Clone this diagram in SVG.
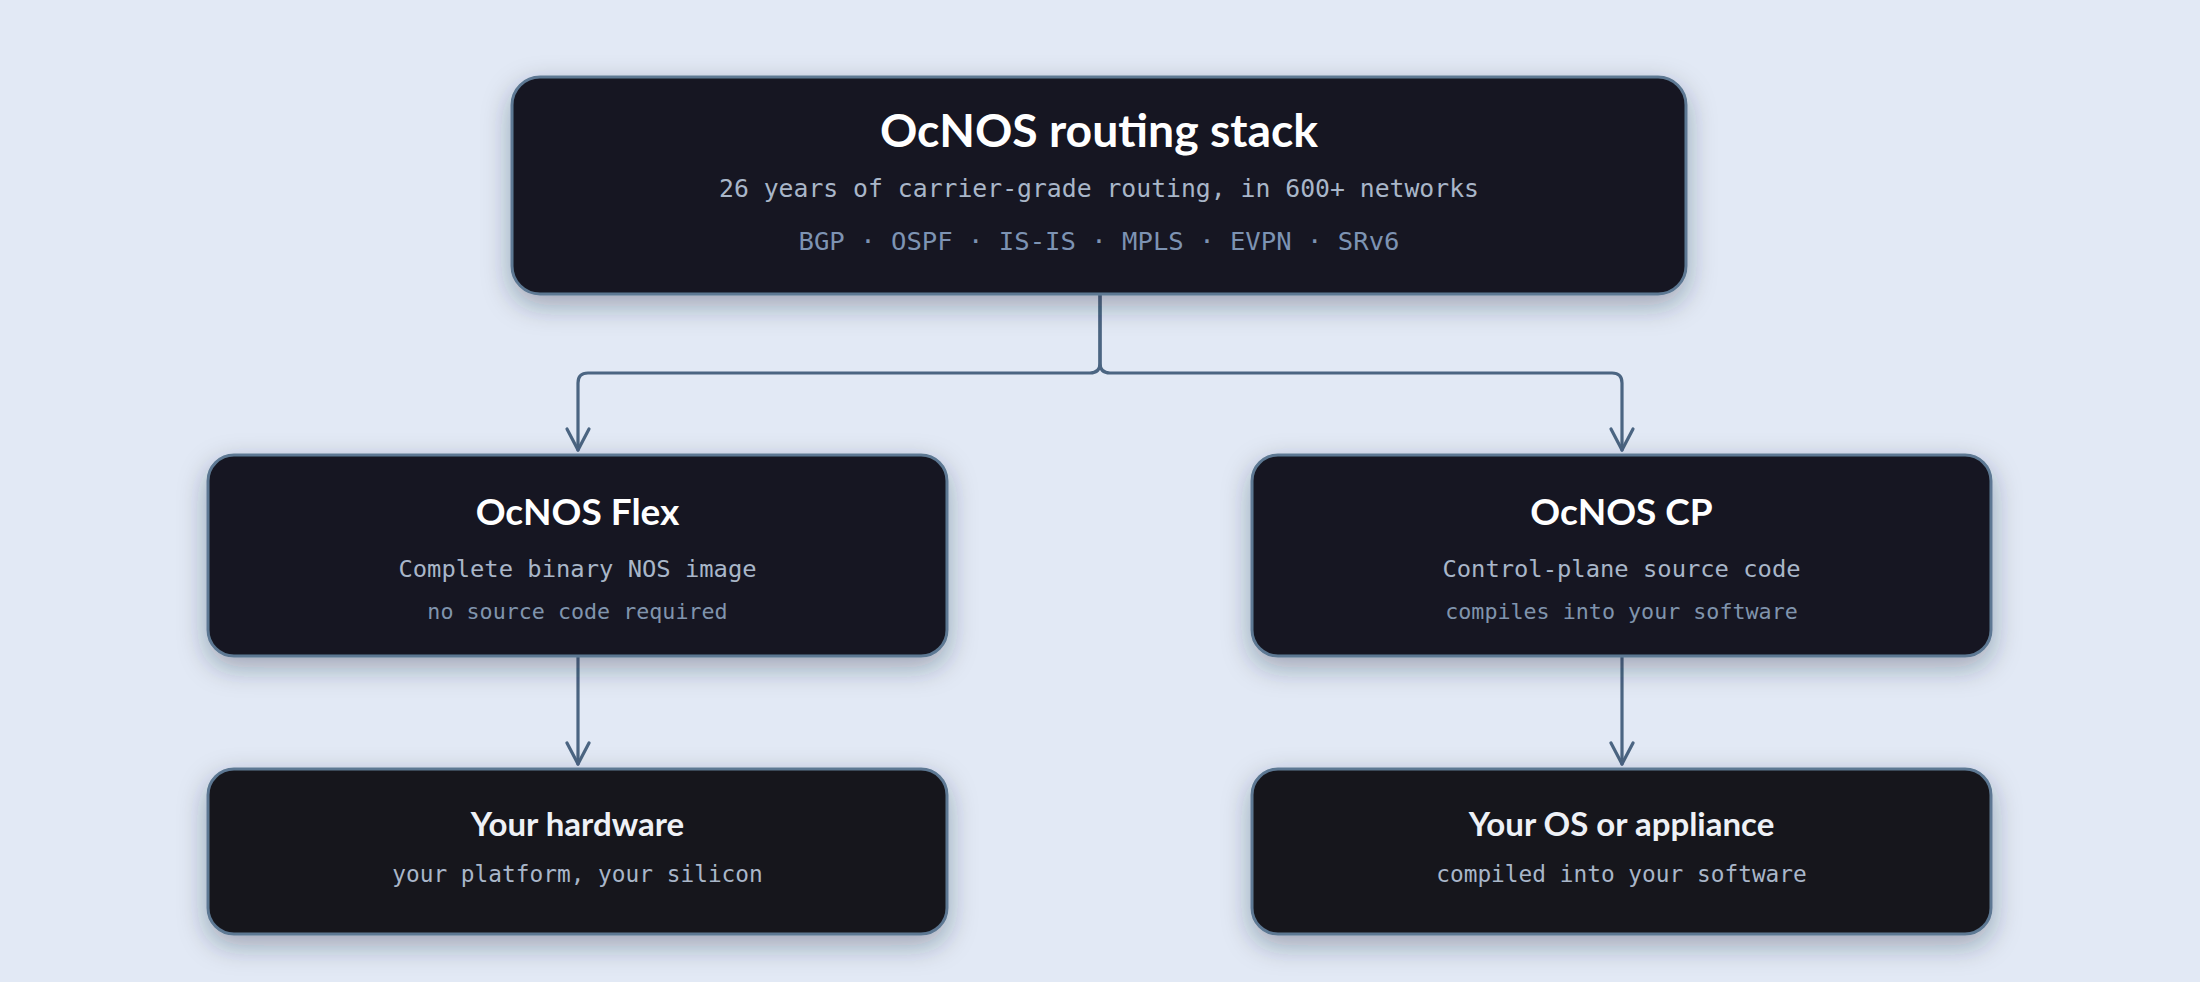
<svg xmlns="http://www.w3.org/2000/svg" width="2200" height="982" viewBox="0 0 2200 982">
<defs>
<filter id="sh" x="-10%" y="-20%" width="120%" height="150%">
<feDropShadow dx="0" dy="10" stdDeviation="14" flood-color="#1c2a3e" flood-opacity="0.35"/>
</filter>
<marker id="ah" markerUnits="userSpaceOnUse" markerWidth="40" markerHeight="40" viewBox="-30 -20 40 40" refX="0" refY="0" orient="auto">
<path d="M-21,-11 L0,0 L-21,11" fill="none" stroke="#4b6582" stroke-width="3.2" stroke-linecap="round" stroke-linejoin="round"/>
</marker>
</defs>
<style>
.box{fill:#171822;stroke:#5d7893;stroke-width:3;filter:url(#sh)}
.box2{fill:#19191f;stroke:#5d7893;stroke-width:3;filter:url(#sh)}
.t{font-family:Lato,"Noto Sans",sans-serif;font-weight:700;fill:#ffffff;text-anchor:middle}
.t2{font-family:Lato,"Noto Sans",sans-serif;font-weight:700;fill:#eef1f6;text-anchor:middle}
.m{font-family:"DejaVu Sans Mono","Liberation Mono",monospace;text-anchor:middle}
.s1{fill:#a9b6c9}
.s2{fill:#8094ad}
.s3{fill:#7d93b3}
.c{fill:none;stroke:#4b6582;stroke-width:3.2;stroke-linecap:round;stroke-linejoin:round}
</style>
<rect width="2200" height="982" fill="#e2e9f5"/>
<g id="connectors">
<path class="c" d="M1100 295 V363 Q1100 373 1090 373 H588 Q578 373 578 383 V450" marker-end="url(#ah)"/>
<path class="c" d="M1100 295 V363 Q1100 373 1110 373 H1612 Q1622 373 1622 383 V450" marker-end="url(#ah)"/>
<path class="c" d="M578 657 V764" marker-end="url(#ah)"/>
<path class="c" d="M1622 657 V764" marker-end="url(#ah)"/>
</g>
<g id="stack">
<rect class="box" x="512" y="77" width="1174" height="217" rx="28"/>
<text class="t" x="1099" y="147" font-size="46.3">OcNOS routing stack</text>
<text class="m s1" x="1099" y="197" font-size="24.75">26 years of carrier-grade routing, in 600+ networks</text>
<text class="m s3" x="1099" y="250" font-size="25.6">BGP · OSPF · IS-IS · MPLS · EVPN · SRv6</text>
</g>
<g id="flex">
<rect class="box" x="208" y="455" width="739" height="201" rx="26"/>
<text class="t" x="577.5" y="525" font-size="37">OcNOS Flex</text>
<text class="m s1" x="577.5" y="577" font-size="23.8">Complete binary NOS image</text>
<text class="m s2" x="577.5" y="619" font-size="21.7">no source code required</text>
</g>
<g id="cp">
<rect class="box" x="1252" y="455" width="739" height="201" rx="26"/>
<text class="t" x="1621.5" y="525" font-size="37">OcNOS CP</text>
<text class="m s1" x="1621.5" y="577" font-size="23.8">Control-plane source code</text>
<text class="m s2" x="1621.5" y="619" font-size="21.7">compiles into your software</text>
</g>
<g id="hardware">
<rect class="box2" x="208" y="769" width="739" height="165" rx="26"/>
<text class="t2" x="577.5" y="836" font-size="33">Your hardware</text>
<text class="m s1" x="577.5" y="882" font-size="22.8">your platform, your silicon</text>
</g>
<g id="appliance">
<rect class="box2" x="1252" y="769" width="739" height="165" rx="26"/>
<text class="t2" x="1621.5" y="836" font-size="33">Your OS or appliance</text>
<text class="m s1" x="1621.5" y="882" font-size="22.8">compiled into your software</text>
</g>
</svg>
